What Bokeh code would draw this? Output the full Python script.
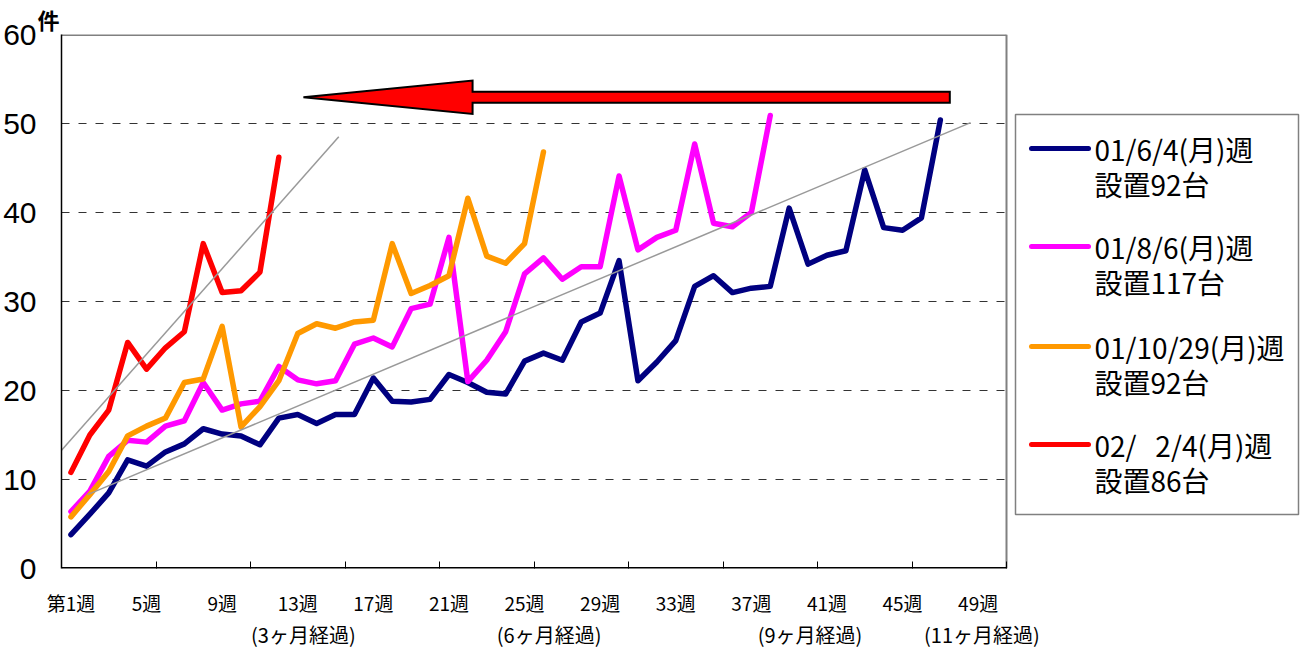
from bokeh.plotting import figure
from bokeh.models import FixedTicker, LinearAxis, Range1d
from bokeh.core.properties import value
from bokeh.embed import file_html
from bokeh.resources import INLINE

# ---- data (weekly counts) ----
blue = [3.8, 6.1, 8.5, 12.2, 11.5, 13.1, 14.0, 15.7, 15.1, 14.9, 13.9, 16.9, 17.3, 16.3, 17.3,
        17.3, 21.4, 18.8, 18.7, 19.0, 21.8, 20.9, 19.8, 19.6, 23.3, 24.2, 23.4, 27.7, 28.7, 34.6,
        21.1, 23.2, 25.6, 31.7, 32.9, 31.0, 31.5, 31.7, 40.5, 34.2, 35.2, 35.7, 44.8, 38.3, 38.0,
        39.4, 50.4]
magenta = [6.4, 8.7, 12.6, 14.4, 14.2, 16.0, 16.6, 20.9, 17.8, 18.5, 18.8, 22.7, 21.2, 20.75,
           21.1, 25.2, 25.9, 24.9, 29.2, 29.7, 37.2, 21.0, 23.4, 26.6, 33.1, 34.9, 32.5, 33.9,
           33.9, 44.1, 35.8, 37.2, 38.0, 47.7, 38.8, 38.4, 40.0, 50.9]
orange = [5.8, 8.3, 10.9, 14.9, 16.0, 16.9, 20.9, 21.3, 27.2, 15.9, 18.2, 21.1, 26.4, 27.5, 27.0,
          27.7, 27.9, 36.5, 30.9, 31.8, 32.9, 41.6, 35.1, 34.3, 36.5, 46.8]
red = [10.8, 15.0, 17.8, 25.4, 22.4, 24.8, 26.6, 36.5, 31.0, 31.2, 33.3, 46.2]

series_line1 = ["01/6/4(月)週", "01/8/6(月)週", "01/10/29(月)週", "02/\u00a0\u00a0\u00a02/4(月)週"]
series_line2 = ["設置92台", "設置117台", "設置92台", "設置86台"]
series_colors = ["#000080", "#FF00FF", "#FF9900", "#FF0000"]

week_ticks = [1, 5, 9, 13, 17, 21, 25, 29, 33, 37, 41, 45, 49]
week_labels = ["第1週", "5週", "9週", "13週", "17週", "21週", "25週", "29週", "33週",
               "37週", "41週", "45週", "49週"]
month_ticks = [13.3, 26.3, 40.1, 49.2]
month_labels = ["(3ヶ月経過)", "(6ヶ月経過)", "(9ヶ月経過)", "(11ヶ月経過)"]
y_ticks = [0, 10, 20, 30, 40, 50, 60]
grid_levels = [10, 20, 30, 40, 50]
x_tick_marks = [5.5, 10.5, 15.5, 20.5, 25.5, 30.5, 35.5, 40.5, 45.5, 50.5]
N_WEEKS = 50

# trend lines and arrow (drawn annotations)
trend1_x, trend1_y = [0.02, 15.17], [12.13, 48.5]
trend2_x, trend2_y = [1.88, 48.6], [8.3, 50.1]
arrow_tip_x, arrow_base_x, arrow_tail_x = 13.3, 22.25, 47.5
arrow_y, shaft_half, head_half = 52.95, 0.62, 1.87

JP = "Noto Sans CJK JP"

# ---- layout (pixels) ----
W, H = 1306, 651
FRAME_L, FRAME_T, FRAME_B, PLOT_R = 61, 34, 568, 1006
MIN_R = 2
PXW = (PLOT_R - FRAME_L) / N_WEEKS          # pixels per week
PXV = (FRAME_B - FRAME_T) / 60.0            # pixels per count
x_end = 0.5 + (W - FRAME_L - MIN_R) / PXW   # frame extends under the legend area


def dx(px):
    return 0.5 + (px - FRAME_L) / PXW


def dy(py):
    return (FRAME_B - py) / PXV


p = figure(width=W, height=H, x_range=Range1d(0.5, x_end), y_range=Range1d(0, 60),
           output_backend="svg", toolbar_location=None,
           min_border_left=FRAME_L, min_border_right=MIN_R, min_border_top=FRAME_T,
           min_border_bottom=H - FRAME_B)
p.outline_line_color = None
p.background_fill_color = "white"
p.border_fill_color = "white"
p.xgrid.visible = False
p.ygrid.visible = False

p.title.text = "件"
p.title.align = "left"
p.title.offset = -24
p.title.standoff = 0
p.title.text_font = JP
p.title.text_font_style = "bold"
p.title.text_font_size = "22px"
p.title.text_color = "black"

# y axis
p.yaxis.ticker = FixedTicker(ticks=y_ticks)
p.yaxis.major_tick_line_color = None
p.yaxis.major_tick_in = 0
p.yaxis.major_tick_out = 0
p.yaxis.minor_tick_line_color = None
p.yaxis.minor_tick_in = 0
p.yaxis.minor_tick_out = 0
p.yaxis.axis_line_color = "black"
p.yaxis.axis_line_width = 1.5
p.yaxis.major_label_text_font = "Liberation Sans"
p.yaxis.major_label_text_font_size = "30px"
p.yaxis.major_label_text_color = "black"
p.yaxis.major_label_standoff = 25

# x axis: tick marks only (line drawn separately so it stops at the plot's right edge)
p.xaxis.ticker = FixedTicker(ticks=x_tick_marks)
p.xaxis.major_tick_in = 7
p.xaxis.major_tick_out = 0
p.xaxis.major_tick_line_color = "black"
p.xaxis.major_tick_line_width = 1
p.xaxis.minor_tick_line_color = None
p.xaxis.axis_line_color = None
p.xaxis.major_label_overrides = {t: "" for t in x_tick_marks}
p.xaxis.major_label_standoff = 0

ax_weeks = LinearAxis(ticker=FixedTicker(ticks=week_ticks),
                      major_label_overrides={t: l for t, l in zip(week_ticks, week_labels)},
                      axis_line_color=None, major_tick_line_color=None, minor_tick_line_color=None,
                      major_tick_in=0, major_tick_out=0,
                      major_label_text_font=JP, major_label_text_font_size="19px",
                      major_label_text_color="black", major_label_standoff=20)
p.add_layout(ax_weeks, "below")
ax_months = LinearAxis(ticker=FixedTicker(ticks=month_ticks),
                       major_label_overrides={t: l for t, l in zip(month_ticks, month_labels)},
                       axis_line_color=None, major_tick_line_color=None, minor_tick_line_color=None,
                       major_tick_in=0, major_tick_out=0,
                       major_label_text_font=JP, major_label_text_font_size="20px",
                       major_label_text_color="black", major_label_standoff=1)
p.add_layout(ax_months, "below")

x_lo, x_hi = 0.5, N_WEEKS + 0.5
# dashed grid, plot border and bottom axis line
p.segment(x0=[x_lo] * len(grid_levels), y0=grid_levels, x1=[x_hi] * len(grid_levels), y1=grid_levels,
          line_color="#333333", line_width=1, line_dash="8 9")
p.segment(x0=[x_lo], y0=[60], x1=[x_hi], y1=[60], line_color="#808080", line_width=3)
p.segment(x0=[x_hi], y0=[0], x1=[x_hi], y1=[60], line_color="#808080", line_width=2)
p.segment(x0=[x_lo], y0=[0], x1=[x_hi], y1=[0], line_color="black", line_width=3)

for data, color in zip([blue, magenta, orange, red], series_colors):
    xs = list(range(1, len(data) + 1))
    p.line(xs, data, line_color=color, line_width=5.5, line_join="round", line_cap="round")

# trend lines
p.line(trend1_x, trend1_y, line_color="#999999", line_width=1.5)
p.line(trend2_x, trend2_y, line_color="#999999", line_width=1.5)

# big red arrow
ax_ = [arrow_tip_x, arrow_base_x, arrow_base_x, arrow_tail_x, arrow_tail_x, arrow_base_x, arrow_base_x]
ay_ = [arrow_y, arrow_y + head_half, arrow_y + shaft_half, arrow_y + shaft_half,
       arrow_y - shaft_half, arrow_y - shaft_half, arrow_y - head_half]
p.patch(ax_, ay_, fill_color="#FF0000", line_color="black", line_width=2, line_join="miter")

# ---- legend box ----
LEG_L, LEG_R, LEG_T, LEG_B = 1015, 1298, 114, 514
LEG_ROWS = [148, 246, 346, 444]
LEG_LINE2 = 35
SAMPLE_L, SAMPLE_R, TEXT_L = 1031, 1088, 1094

p.quad(left=[dx(LEG_L)], right=[dx(LEG_R)], top=[dy(LEG_T)], bottom=[dy(LEG_B)],
       fill_color="white", line_color="#808080", line_width=1.5)
p.segment(x0=[dx(SAMPLE_L)] * 4, x1=[dx(SAMPLE_R)] * 4,
          y0=[dy(r) for r in LEG_ROWS], y1=[dy(r) for r in LEG_ROWS],
          line_color=series_colors, line_width=5, line_cap="round")
p.text(x=[dx(TEXT_L)] * 8,
       y=[dy(r) for r in LEG_ROWS] + [dy(r + LEG_LINE2) for r in LEG_ROWS],
       text=series_line1 + series_line2,
       text_font=value(JP), text_font_size="28px", text_color="black",
       text_baseline="middle", text_align="left")

open("out.html", "w").write(file_html(p, INLINE))
